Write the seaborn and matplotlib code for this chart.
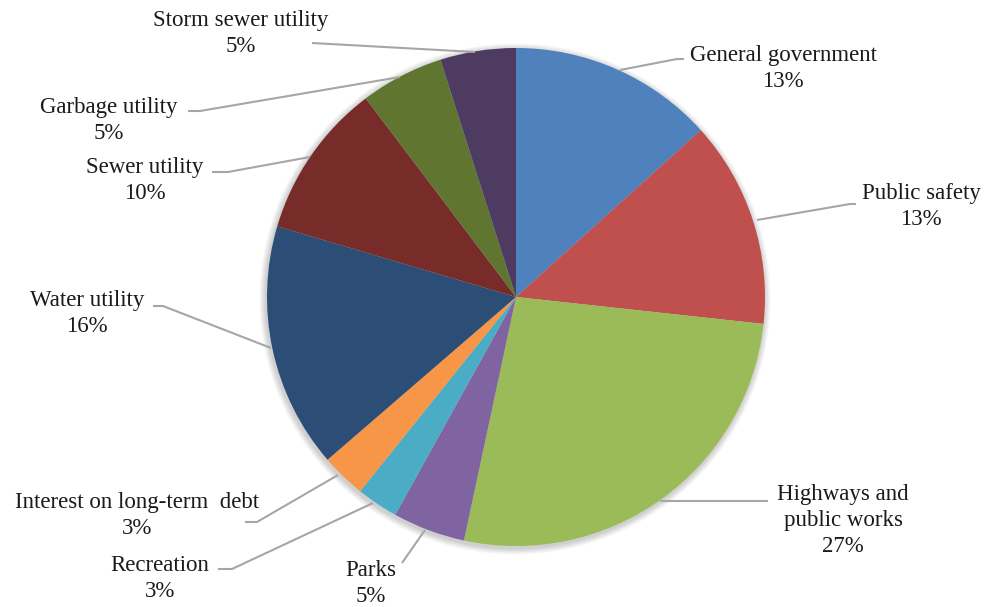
import matplotlib
matplotlib.use("Agg")
import matplotlib.pyplot as plt
import seaborn as sns
from matplotlib.patches import Circle

sns.set_theme(style="white")
plt.rcParams['font.family'] = ['Liberation Serif', 'DejaVu Serif']

categories = ["General government", "Public safety", "Highways and\npublic works", "Parks",
              "Recreation", "Interest on long-term  debt", "Water utility", "Sewer utility",
              "Garbage utility", "Storm sewer utility"]
shares = [13.3, 13.4, 26.6, 4.7, 2.7, 2.9, 15.9, 10.1, 5.4, 4.9]
pct_labels = ["13%", "13%", "27%", "5%", "3%", "3%", "16%", "10%", "5%", "5%"]
colors = ["#4F81BD", "#C0504D", "#9BBB59", "#8064A2", "#4BACC6", "#F79646",
          "#2C4D75", "#772C2A", "#5F7530", "#4D3B62"]

W, H = 986, 607
fig = plt.figure(figsize=(W / 100, H / 100), dpi=100)
ax = fig.add_axes([0, 0, 1, 1])

cx, cy, R = 516, 297, 249

# soft shadow
for i in range(8):
    ax.add_patch(Circle((cx - 1, cy + 2), R + 1 + i * 0.8, color="black",
                        alpha=0.025, lw=0, zorder=0))

# pie drawn in a y-down axis: counterclock=True renders clockwise visually
ax.pie(shares, colors=colors, startangle=-90, counterclock=True, center=(cx, cy),
       radius=R, wedgeprops=dict(linewidth=0, edgecolor="none"), frame=True)
ax.set_xlim(0, W)
ax.set_ylim(H, 0)
ax.set_aspect("equal")
ax.axis("off")

# label layout: (text center x, text center y of first line, leader line points)
layout = [
    (783, 55, [(620, 70), (677, 59), (684, 59)]),
    (921, 193, [(757, 220), (850, 204), (856, 204)]),
    (843, 494, [(660, 501), (768, 501)]),
    (371, 570, [(425, 530), (402, 563)]),
    (160, 565, [(373, 503), (232, 569), (218, 569)]),
    (137, 502, [(338, 475), (257, 522), (245, 522)]),
    (87, 300, [(271, 348), (163, 306), (153, 306)]),
    (145, 167, [(310, 157), (228, 172), (212, 172)]),
    (109, 107, [(400, 77), (200, 111), (188, 111)]),
    (241, 20, [(475, 52), (312, 43)]),
]

for name, pct, (tx, ty, pts) in zip(categories, pct_labels, layout):
    xs = [p[0] for p in pts]
    ys = [p[1] for p in pts]
    ax.plot(xs, ys, color="#A6A6A6", lw=1.5, solid_capstyle="butt", zorder=3)
    ax.text(tx, ty - 10, name + "\n" + pct, ha="center", va="top", fontsize=16.5,
            color="#1a1a1a", linespacing=1.3, zorder=4)

fig.savefig("out.png", dpi=100, facecolor="white")
